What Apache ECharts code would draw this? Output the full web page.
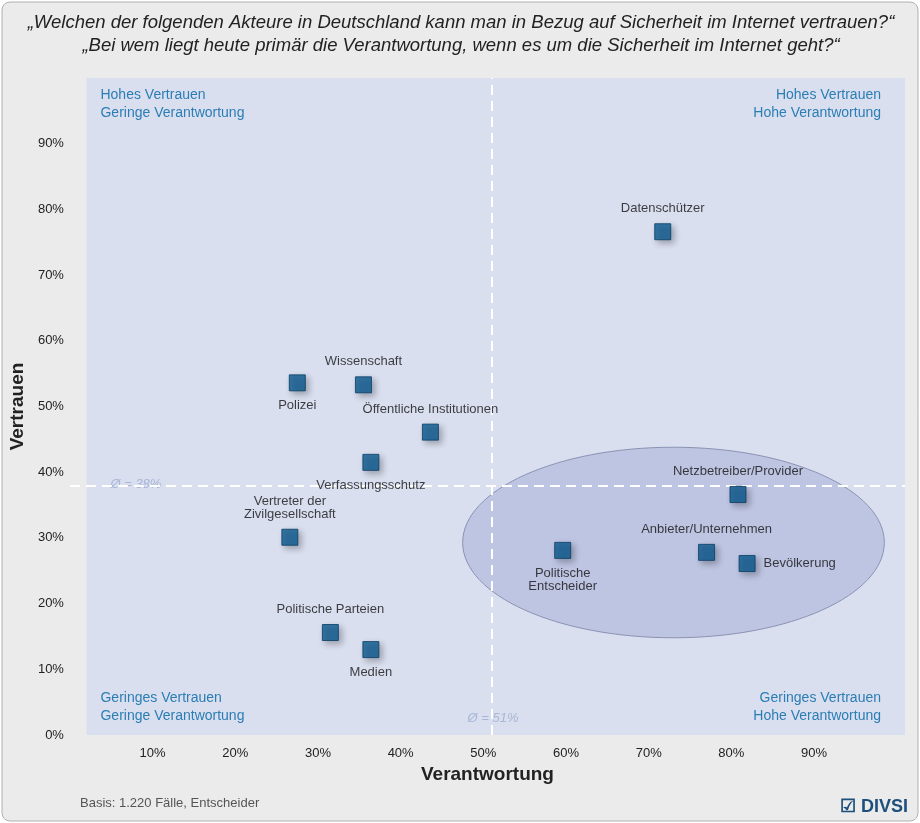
<!DOCTYPE html>
<html><head><meta charset="utf-8">
<script src="https://cdn.jsdelivr.net/npm/echarts@6/dist/echarts.min.js"></script>
<style>html,body{margin:0;padding:0;background:#fff}#c{width:920px;height:823px}</style>
</head><body><div id="c"></div>
<script>
var chart = echarts.init(document.getElementById('c'));

const names = ['Datenschützer','Polizei','Wissenschaft','Öffentliche Institutionen','Verfassungsschutz','Vertreter der\nZivilgesellschaft','Politische Parteien','Medien','Politische\nEntscheider','Netzbetreiber/Provider','Anbieter/Unternehmen','Bevölkerung'];
const verantwortung = [71.7,27.5,35.5,43.6,36.4,26.6,31.5,36.4,59.6,80.8,77.0,81.9];
const vertrauen = [76.6,53.6,53.3,46.1,41.5,30.1,15.6,13.0,28.1,36.6,27.8,26.1];
const labelPos = ['top','bottom','top','top','bottom','top','top','bottom','bottom','top','top','right'];
const meanX = 51, meanY = 38;
const ellipse = {cx:73, cy:29.3, rx:25.5, ry:14.5};

const blue = '#2b7db3';
var points = names.map(function(n,i){
  return {name:n, value:[verantwortung[i], vertrauen[i]],
    label:{position:labelPos[i], align:labelPos[i]==='right'?'left':'center'}};
});

var option = {
  backgroundColor:'#fff',
  graphic:[
    {type:'rect', shape:{x:2,y:2,width:916,height:819,r:8}, style:{fill:'#ebebeb',stroke:'#b0b0b0',lineWidth:1}, z:-10},
    {type:'text', x:461, y:11, style:{text:'„Welchen der folgenden Akteure in Deutschland kann man in Bezug auf Sicherheit im Internet vertrauen?“\n„Bei wem liegt heute primär die Verantwortung, wenn es um die Sicherheit im Internet geht?“', font:'italic 18.5px Arial, "Liberation Sans"', fill:'#222', lineHeight:23, align:'center'}},
    {type:'text', left:80, top:797, style:{text:'Basis: 1.220 Fälle, Entscheider', font:'13px Arial, "Liberation Sans"', fill:'#555'}},
    {type:'text', right:12, top:798, style:{text:'☑ DIVSI', font:'bold 18px Arial, "Liberation Sans"', fill:'#1d4f7c'}}
  ],
  grid:{left:63, right:15, top:78, bottom:88},
  xAxis:{type:'value', min:0, max:101, interval:10,
    name:'Verantwortung', nameLocation:'middle', nameGap:26,
    nameTextStyle:{fontSize:19, fontWeight:'bold', color:'#222', fontFamily:'Arial'},
    axisLabel:{formatter:function(v){return (v>0&&v<100)?v+'%':'';}, color:'#222', fontSize:13, margin:12},
    axisLine:{show:false}, axisTick:{show:false}, splitLine:{show:false}},
  yAxis:{type:'value', min:0, max:100, interval:10,
    name:'Vertrauen', nameLocation:'middle', nameGap:36,
    nameTextStyle:{fontSize:19, fontWeight:'bold', color:'#222', fontFamily:'Arial'},
    axisLabel:{formatter:function(v){return v<100?v+'%':'';}, color:'#222', fontSize:13, margin:6},
    axisLine:{show:false}, axisTick:{show:false}, splitLine:{show:false}},
  series:[
    {type:'scatter', symbol:'rect', symbolSize:16, z:5,
     itemStyle:{color:'#0b5a91', borderColor:'#083d63', borderWidth:1, shadowBlur:6, shadowOffsetX:3, shadowOffsetY:3, shadowColor:'rgba(0,0,0,0.35)'},
     label:{show:true, formatter:'{b}', color:'#111', fontSize:13, distance:8},
     data:points,
     markArea:{silent:true, itemStyle:{color:'#dadff0', borderColor:'#c9cfe3'}, data:[[{coord:[2,0]},{coord:[101,100]}]]},
     markLine:{silent:true, symbol:'none', lineStyle:{color:'#fff', type:[10,6], width:2}, label:{show:false},
       data:[{xAxis:meanX},{yAxis:meanY}]}
    }
  ]
};
chart.setOption(option);

var c = chart.convertToPixel({gridIndex:0}, [ellipse.cx, ellipse.cy]);
var e = chart.convertToPixel({gridIndex:0}, [ellipse.cx+ellipse.rx, ellipse.cy+ellipse.ry]);
var tl = chart.convertToPixel({gridIndex:0}, [2,100]);
var br = chart.convertToPixel({gridIndex:0}, [101,0]);
var mx = chart.convertToPixel({gridIndex:0}, [meanX, meanY]);
var qs = {font:'14px Arial, "Liberation Sans"', fill:blue, lineHeight:18};
option.graphic = option.graphic.concat([
  {type:'ellipse', shape:{cx:c[0], cy:c[1], rx:e[0]-c[0], ry:c[1]-e[1]}, style:{fill:'rgba(125,140,195,0.3)', stroke:'#8a93b3', lineWidth:1}, z:3},
  {type:'text', x:tl[0]+14, y:tl[1]+8, style:Object.assign({text:'Hohes Vertrauen\nGeringe Verantwortung'},qs), z:3},
  {type:'text', x:br[0]-24, y:tl[1]+8, style:Object.assign({text:'Hohes Vertrauen\nHohe Verantwortung', align:'right'},qs), z:3},
  {type:'text', x:tl[0]+14, y:br[1]-46, style:Object.assign({text:'Geringes Vertrauen\nGeringe Verantwortung'},qs), z:3},
  {type:'text', x:br[0]-24, y:br[1]-46, style:Object.assign({text:'Geringes Vertrauen\nHohe Verantwortung', align:'right'},qs), z:3},
  {type:'text', x:tl[0]+24, y:mx[1]-7, style:{text:'Ø = 38%', font:'italic 13px Arial', fill:'#a8b6d6'}, z:3},
  {type:'text', x:mx[0]-24, y:br[1]-23, style:{text:'Ø = 51%', font:'italic 13px Arial', fill:'#a8b6d6'}, z:3}
]);
chart.setOption({graphic:option.graphic});
</script></body></html>
